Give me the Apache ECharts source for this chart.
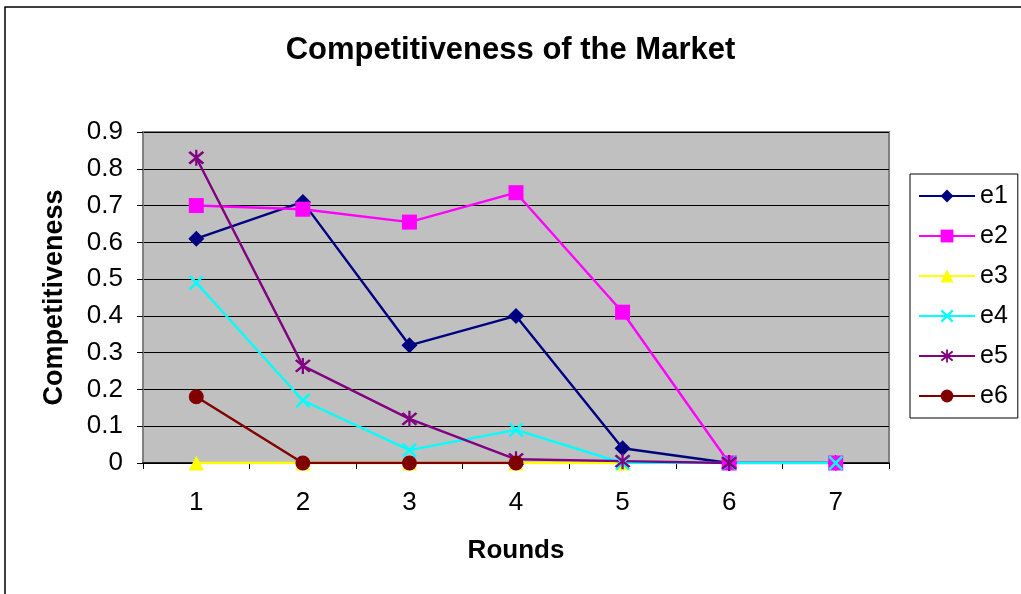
<!DOCTYPE html>
<html>
<head>
<meta charset="utf-8">
<title>Competitiveness of the Market</title>
<script src="https://cdn.jsdelivr.net/npm/echarts@6/dist/echarts.min.js"></script>
<style>
  html, body { margin: 0; padding: 0; background: #fff; }
  #chart { width: 1021px; height: 594px; }
</style>
</head>
<body>
<div id="chart"></div>
<script>
// rounds on the x axis
const rounds = ['1', '2', '3', '4', '5', '6', '7']

// competitiveness per firm
const e1 = [0.61, 0.71, 0.32, 0.40, 0.04, 0, 0]
const e2 = [0.70, 0.69, 0.655, 0.735, 0.41, 0, 0]
const e3 = [0, 0, 0, 0, 0]
const e4 = [0.49, 0.17, 0.035, 0.09, 0, 0, 0]
const e5 = [0.83, 0.264, 0.12, 0.01, 0.005, 0]
const e6 = [0.18, 0, 0, 0]

// X and asterisk markers as filled outlines
const xMark = 'path://M0,1.2L1.2,0L10,8.8L8.8,10ZM8.8,0L10,1.2L1.2,10L0,8.8Z'
const starMark = 'path://M0,1.2L1.2,0L10,8.8L8.8,10ZM8.8,0L10,1.2L1.2,10L0,8.8ZM4.3,-1L5.7,-1L5.7,11L4.3,11Z'

const font = '"Liberation Sans", Arial, sans-serif'

function makeSeries(name, data, color, symbol, size) {
  return {
    name: name,
    type: 'line',
    data: data,
    symbol: symbol,
    symbolSize: size,
    showAllSymbol: true,
    color: color,
    lineStyle: { color: color, width: 2.4 },
    itemStyle: { color: color, borderWidth: 0 },
    emphasis: { disabled: true },
    animation: false
  }
}

const chart = echarts.init(document.getElementById('chart'))
const option = {
  animation: false,
  graphic: [
    {
      type: 'rect',
      shape: { x: 5, y: 7, width: 1100, height: 700 },
      style: { fill: 'none', stroke: '#000', lineWidth: 1.5 },
      silent: true
    }
  ],
  title: {
    text: 'Competitiveness of the Market',
    left: 'center',
    top: 30,
    textStyle: { fontFamily: font, fontSize: 31, fontWeight: 'bold', color: '#000' }
  },
  legend: {
    orient: 'vertical',
    left: 910,
    top: 174,
    width: 107,
    padding: [9, 10, 9, 8],
    itemWidth: 56,
    itemHeight: 16,
    itemGap: 14,
    borderColor: '#000',
    borderWidth: 1,
    textStyle: { fontFamily: font, fontSize: 25, color: '#000', lineHeight: 26 },
    data: ['e1', 'e2', 'e3', 'e4', 'e5', 'e6']
  },
  grid: {
    left: 143,
    right: 132,
    top: 132,
    bottom: 131,
    show: true,
    backgroundColor: '#C0C0C0',
    borderColor: '#808080',
    borderWidth: 2
  },
  xAxis: {
    type: 'category',
    data: rounds,
    boundaryGap: true,
    name: 'Rounds',
    nameLocation: 'middle',
    nameGap: 75,
    nameTextStyle: { fontFamily: font, fontSize: 26, fontWeight: 'bold', color: '#000' },
    axisLine: { lineStyle: { color: '#000', width: 1.5 } },
    axisTick: { show: true, alignWithLabel: false, length: 6, lineStyle: { color: '#000' } },
    axisLabel: { fontFamily: font, fontSize: 26, color: '#000', margin: 27 },
    splitLine: { show: false }
  },
  yAxis: {
    type: 'value',
    min: 0,
    max: 0.9,
    interval: 0.1,
    name: 'Competitiveness',
    nameLocation: 'middle',
    nameGap: 75,
    nameTextStyle: { fontFamily: font, fontSize: 27, fontWeight: 'bold', color: '#000' },
    axisLine: { show: true, lineStyle: { color: '#808080', width: 2 } },
    axisTick: { show: true, length: 6, lineStyle: { color: '#000' } },
    axisLabel: { fontFamily: font, fontSize: 26, color: '#000', margin: 20 },
    splitLine: { show: true, lineStyle: { color: '#000', width: 1 } }
  },
  series: [
    makeSeries('e1', e1, '#000080', 'diamond', 16),
    makeSeries('e2', e2, '#FF00FF', 'rect', 15),
    makeSeries('e3', e3, '#FFFF00', 'triangle', 15),
    makeSeries('e4', e4, '#00FFFF', xMark, 15),
    makeSeries('e5', e5, '#800080', starMark, 16),
    makeSeries('e6', e6, '#800000', 'circle', 15)
  ]
}
option && chart.setOption(option, true)
</script>
</body>
</html>
